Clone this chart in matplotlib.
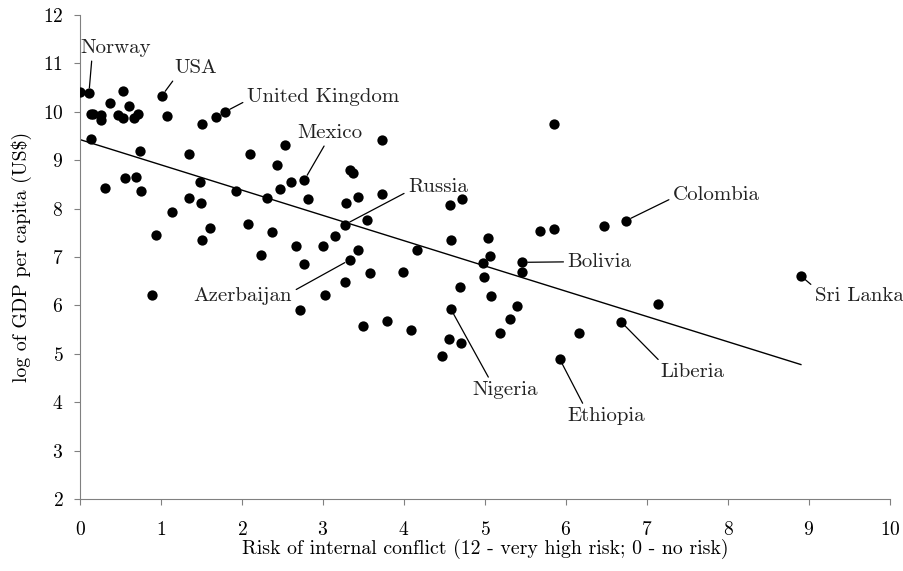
import numpy as np
import matplotlib
matplotlib.use('Agg')
import matplotlib.pyplot as plt

plt.rcParams['font.family'] = 'serif'
plt.rcParams['font.serif'] = ['cmr10']
plt.rcParams['mathtext.fontset'] = 'cm'
plt.rcParams['axes.formatter.use_mathtext'] = True

# risk of internal conflict vs log GDP per capita
risk = [0.00, 0.11, 0.14, 0.16, 0.26, 0.26, 0.37, 0.53, 0.61, 0.47,
        0.53, 0.67, 0.72, 0.14, 0.74, 1.01, 1.07, 1.50, 1.68, 1.79,
        1.34, 2.10, 2.53, 2.43, 2.77, 2.47, 2.60, 3.33, 3.37,
        0.31, 0.56, 0.69, 0.75, 0.94, 0.89, 1.14, 1.34, 1.48, 1.49,
        1.60, 1.50, 1.92, 2.08, 2.37, 2.24, 2.31, 2.81, 2.67, 2.77,
        2.71, 3.00, 3.15, 3.03, 3.28, 3.33, 3.27, 3.43, 3.43,
        3.73, 3.73, 3.27, 3.54, 3.58, 3.99, 4.16, 3.50, 3.79, 4.09,
        4.57, 4.71, 4.58, 5.04, 5.06, 4.97, 4.99, 4.69, 5.07, 4.58,
        4.55, 4.70, 5.40, 5.31, 5.19, 5.85, 5.68, 5.85, 6.47, 6.74,
        5.46, 5.46, 4.47, 6.16, 5.92, 6.68, 7.13, 8.90]
gdp = [10.40, 10.38, 9.95, 9.95, 9.93, 9.84, 10.18, 10.43, 10.13, 9.93,
       9.87, 9.87, 9.95, 9.43, 9.20, 10.33, 9.91, 9.75, 9.89, 10.00,
       9.12, 9.12, 9.31, 8.91, 8.59, 8.41, 8.54, 8.80, 8.73,
       8.42, 8.63, 8.66, 8.36, 7.45, 6.21, 7.92, 8.22, 8.54, 8.12,
       7.59, 7.35, 8.37, 7.68, 7.51, 7.05, 8.21, 8.20, 7.23, 6.86,
       5.91, 7.23, 7.43, 6.21, 8.11, 6.94, 6.48, 8.23, 7.14,
       9.42, 8.30, 7.67, 7.76, 6.67, 6.70, 7.14, 5.58, 5.68, 5.49,
       8.07, 8.19, 7.35, 7.39, 7.03, 6.87, 6.59, 6.39, 6.20, 5.92,
       5.31, 5.23, 5.99, 5.72, 5.44, 9.75, 7.54, 7.57, 7.65, 7.75,
       6.89, 6.68, 4.95, 5.44, 4.90, 5.66, 6.02, 6.61]

# labelled countries
names = ['Norway', 'USA', 'United Kingdom', 'Mexico', 'Russia', 'Azerbaijan',
         'Colombia', 'Bolivia', 'Sri Lanka', 'Liberia', 'Ethiopia', 'Nigeria']
name_x = [0.11, 1.01, 1.79, 2.77, 3.27, 3.33, 6.74, 5.46, 8.90, 6.68, 5.92, 4.58]
name_y = [10.38, 10.33, 10.00, 8.59, 7.67, 6.94, 7.75, 6.89, 6.61, 5.66, 4.90, 5.92]
text_x = [0.00, 1.17, 2.06, 2.68, 4.05, 2.62, 7.32, 6.02, 9.07, 7.16, 6.02, 4.85]
text_y = [11.32, 10.90, 10.31, 9.56, 8.45, 6.19, 8.28, 6.90, 6.19, 4.62, 3.71, 4.25]
text_ha = ['left', 'left', 'left', 'left', 'left', 'right',
           'left', 'left', 'left', 'left', 'left', 'left']
line_from = [(0.17, 0.0), (0.05, 0.1), (0.0, 0.3), (0.45, 0.0), (0.0, 0.25), (1.0, 0.75),
             (0.0, 0.35), (0.0, 0.5), (0.03, 0.85), (0.03, 1.0), (0.22, 1.0), (0.27, 1.0)]

fig = plt.figure(figsize=(9.04, 5.71), dpi=100)
ax = fig.add_axes([0.0885, 0.1261, 0.896, 0.8476])

ax.scatter(risk, gdp, s=55, color='black', zorder=3, linewidths=0)

# linear trend over the data range
k, b = np.polyfit(risk, gdp, 1)
xs = np.array([min(risk), max(risk)])
ax.plot(xs, k * xs + b, color='black', lw=1)

for i in range(len(names)):
    ax.annotate(names[i], xy=(name_x[i], name_y[i]), xytext=(text_x[i], text_y[i]),
                ha=text_ha[i], va='center', fontsize=15, color='#222222',
                arrowprops=dict(arrowstyle='-', color='black', lw=0.9,
                                relpos=line_from[i], shrinkA=1, shrinkB=4))

ax.set_xlim(0, 10)
ax.set_ylim(2, 12)
ax.set_xticks(range(0, 11))
ax.set_yticks(range(2, 13))
ax.set_xlabel('Risk of internal conflict (12 - very high risk; 0 - no risk)', fontsize=14.3, labelpad=0)
ax.set_ylabel(r'log of GDP per capita (US\$)', fontsize=14.3, labelpad=8)
for s in ['top', 'right']:
    ax.spines[s].set_visible(False)
for s in ['left', 'bottom']:
    ax.spines[s].set_color('#808080')
ax.tick_params(direction='out', length=4, color='#808080', labelsize=14, pad=8)
ax.tick_params(axis='x', pad=12)

fig.savefig('out.png', dpi=100)
